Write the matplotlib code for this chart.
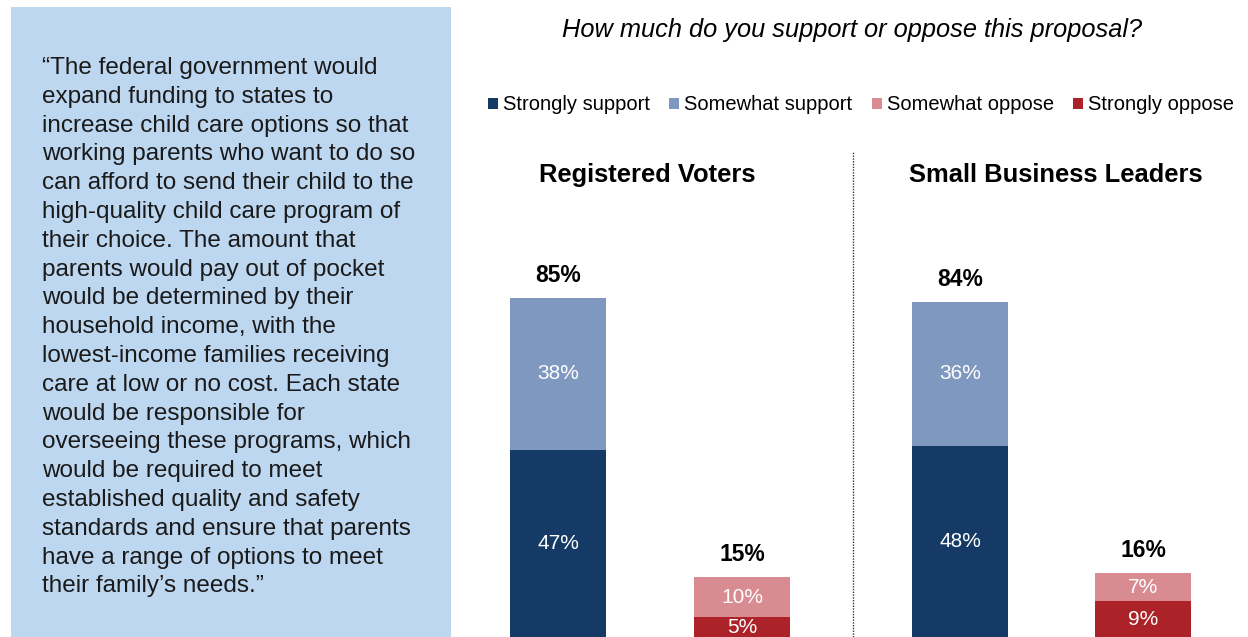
import matplotlib.pyplot as plt
from matplotlib.patches import Rectangle, Patch

plt.rcParams['font.family'] = ['Liberation Sans', 'DejaVu Sans']

groups = ['Registered Voters', 'Small Business Leaders']
strongly_support = [47, 48]
somewhat_support = [38, 36]
somewhat_oppose = [10, 7]
strongly_oppose = [5, 9]
legend_labels = ['Strongly support', 'Somewhat support', 'Somewhat oppose', 'Strongly oppose']
colors = ['#153a66', '#7f98bf', '#d98b92', '#ab2328']

quote = ("\u201cThe federal government would\n"
         "expand funding to states to\n"
         "increase child care options so that\n"
         "working parents who want to do so\n"
         "can afford to send their child to the\n"
         "high-quality child care program of\n"
         "their choice. The amount that\n"
         "parents would pay out of pocket\n"
         "would be determined by their\n"
         "household income, with the\n"
         "lowest-income families receiving\n"
         "care at low or no cost. Each state\n"
         "would be responsible for\n"
         "overseeing these programs, which\n"
         "would be required to meet\n"
         "established quality and safety\n"
         "standards and ensure that parents\n"
         "have a range of options to meet\n"
         "their family\u2019s needs.\u201d")

W, H = 1248, 637
fig = plt.figure(figsize=(W / 100, H / 100), dpi=100)

# quote box
fig.patches.append(Rectangle((11 / W, 0), 440 / W, 630 / H, transform=fig.transFigure,
                             facecolor='#bdd7f0', edgecolor='none', zorder=0))
fig.text(42 / W, 1 - 57 / H, quote, fontsize=17.5, va='top', ha='left',
         linespacing=1.40, color='#1a1a1a')

fig.text(852 / W, 1 - 30 / H, 'How much do you support or oppose this proposal?',
         fontsize=18.3, style='italic', ha='center', va='center')

handles = [Patch(facecolor=c) for c in colors]
fig.legend(handles, legend_labels, loc='center', bbox_to_anchor=(861 / W, 1 - 105 / H),
           ncol=4, frameon=False, fontsize=14.5, handlelength=0.5, handleheight=0.5,
           handletextpad=0.25, columnspacing=0.95)

# dotted divider
fig.add_artist(plt.Line2D([853 / W, 853 / W], [0, 1 - 152 / H], transform=fig.transFigure,
                          color='#333333', lw=1, ls=(0, (1, 1))))

px_per_pct = 3.988
ax_top = 152
panels = [(466, 834), (868.5, 1234.5)]
title_x = [647, 1056]

for i, (x0, x1) in enumerate(panels):
    ax = fig.add_axes([x0 / W, 0, (x1 - x0) / W, (H - ax_top) / H])
    ax.set_xlim(-0.5, 1.5)
    ax.set_ylim(0, (H - ax_top) / px_per_pct)
    ax.axis('off')
    w = 0.522
    ss, sw = strongly_support[i], somewhat_support[i]
    so, sto = somewhat_oppose[i], strongly_oppose[i]
    ax.bar(0, ss, w, color=colors[0])
    ax.bar(0, sw, w, bottom=ss, color=colors[1])
    ax.bar(1, sto, w, color=colors[3])
    ax.bar(1, so, w, bottom=sto, color=colors[2])
    segs = [(0, 0, ss), (0, ss, sw), (1, 0, sto), (1, sto, so)]
    for x, b, v in segs:
        ax.text(x, b + v / 2, f'{v}%', color='white', fontsize=15,
                ha='center', va='center')
    ax.text(0, ss + sw + 2.8, f'{ss + sw}%', fontsize=16.5, fontweight='bold',
            ha='center', va='bottom')
    ax.text(1, sto + so + 2.8, f'{sto + so}%', fontsize=16.5, fontweight='bold',
            ha='center', va='bottom')
    fig.text(title_x[i] / W, 1 - 175 / H, groups[i], fontsize=18.4, fontweight='bold',
             ha='center', va='center')

fig.savefig('out.png', dpi=100)
